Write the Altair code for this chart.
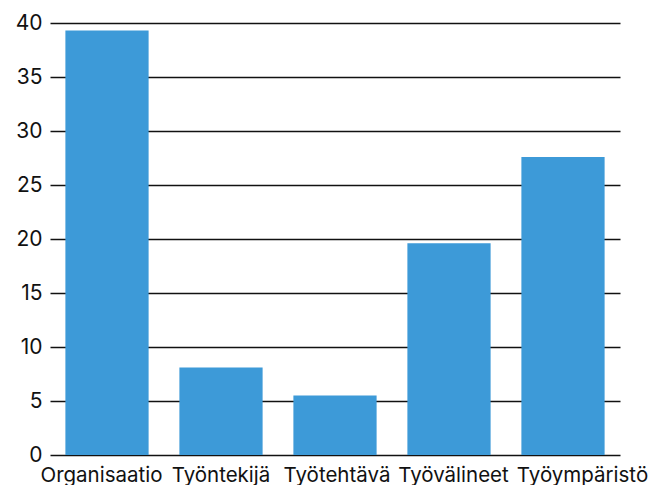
import altair as alt
import pandas as pd

# Categories and their values
categories = ["Organisaatio", "Työntekijä", "Työtehtävä", "Työvälineet", "Työympäristö"]
values = [39.3, 8.1, 5.5, 19.6, 27.6]

# Horizontal nudges for the category labels so they sit side by side
label_shift = [-5.5, 0, 2, 4.5, 19.5]

df = pd.DataFrame({"kategoria": categories, "arvo": values})

font = "Inter"

offset_conditions = [
    {"test": f"datum.value === '{c}'", "value": s}
    for c, s in zip(categories, label_shift)
    if s != 0
]

chart = (
    alt.Chart(df)
    .mark_bar(color="#3d9ad8")
    .encode(
        x=alt.X(
            "kategoria:N",
            sort=categories,
            title=None,
            scale=alt.Scale(paddingInner=0.27, paddingOuter=0.135),
            axis=alt.Axis(
                domain=False,
                ticks=False,
                grid=False,
                labelAngle=0,
                labelFont=font,
                labelFontSize=20.5,
                labelColor="#111111",
                labelPadding=10,
                labelOverlap=False,
                labelBound=False,
                labelFlush=False,
                labelOffset={"condition": offset_conditions, "value": 0},
            ),
        ),
        y=alt.Y(
            "arvo:Q",
            title=None,
            scale=alt.Scale(domain=[0, 40], nice=False),
            axis=alt.Axis(
                values=[0, 5, 10, 15, 20, 25, 30, 35, 40],
                domain=False,
                ticks=False,
                grid=True,
                gridColor="#111111",
                gridWidth=1.5,
                gridOpacity=1,
                labelFont=font,
                labelFontSize=21,
                labelColor="#111111",
                labelPadding=8,
            ),
        ),
    )
    .properties(
        width=570,
        height=432,
        background="white",
        autosize=alt.AutoSizeParams(type="none"),
        padding={"left": 50, "top": 23, "right": 31, "bottom": 30},
    )
    .configure_view(stroke=None, strokeWidth=0)
)

chart.save("out.html", embed_options={"renderer": "svg", "actions": False})
